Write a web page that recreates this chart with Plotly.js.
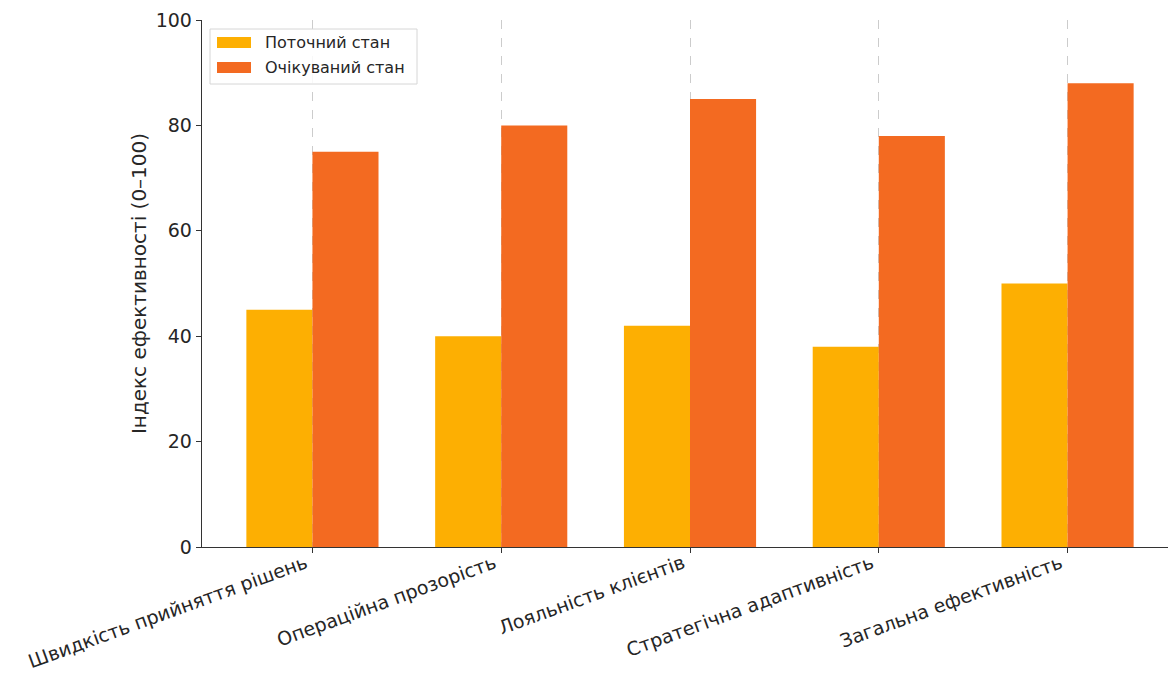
<!DOCTYPE html>
<html>
<head>
<meta charset="utf-8">
<script src="https://cdn.plot.ly/plotly-3.0.1.min.js"></script>
<style>
html,body{margin:0;padding:0;overflow:hidden;background:#fff;}
#chart{width:1168px;height:674px;}
</style>
</head>
<body>
<div id="chart"></div>
<script>
const categories = [
  "Швидкість прийняття рішень",
  "Операційна прозорість",
  "Лояльність клієнтів",
  "Стратегічна адаптивність",
  "Загальна ефективність"
];
const currentValues = [45, 40, 42, 38, 50];
const expectedValues = [75, 80, 85, 78, 88];
const seriesNames = ["Поточний стан", "Очікуваний стан"];
const seriesColors = ["#FDAF02", "#F36A21"];
const yTicks = [0, 20, 40, 60, 80, 100];

const font = "DejaVu Sans, sans-serif";
const W = 1168, H = 674, ML = 202, MT = 20, MB = 127, MR = 0;
const PW = W - ML - MR, PH = H - MT - MB;
const px = v => (v - ML) / PW;
const py = v => (H - MB - v) / PH;

const traces = [
  {type: "bar", x: categories, y: currentValues, name: seriesNames[0],
   marker: {color: seriesColors[0]}},
  {type: "bar", x: categories, y: expectedValues, name: seriesNames[1],
   marker: {color: seriesColors[1]}}
];

// custom legend (box, swatches, labels)
const shapes = [
  {type: "rect", xref: "paper", yref: "paper", x0: px(210), x1: px(417), y0: py(29), y1: py(84),
   line: {color: "#d6d6d6", width: 1}, fillcolor: "rgba(255,255,255,0.85)", layer: "above"}
];
const annotations = [];
const rowY = [42.5, 67.5];
seriesNames.forEach((n, i) => {
  shapes.push({type: "rect", xref: "paper", yref: "paper",
    x0: px(217), x1: px(251), y0: py(rowY[i] - 5.5), y1: py(rowY[i] + 5.5),
    line: {width: 0}, fillcolor: seriesColors[i], layer: "above"});
  annotations.push({xref: "paper", yref: "paper", x: px(263), y: py(rowY[i]),
    xanchor: "left", yanchor: "middle", showarrow: false, text: n,
    font: {family: font, size: 16, color: "#262626"}});
});

const layout = {
  width: W, height: H,
  margin: {l: ML, r: MR, t: MT, b: MB},
  paper_bgcolor: "#fff", plot_bgcolor: "#fff",
  font: {family: font, color: "#262626", size: 19},
  barmode: "group", bargap: 0.3, bargroupgap: 0,
  showlegend: false,
  shapes: shapes,
  annotations: annotations,
  xaxis: {
    type: "category", range: [-0.585, 4.532],
    tickangle: -20, tickfont: {family: font, size: 19, color: "#262626"},
    ticklabelshift: -7, ticklabelstandoff: -8,
    showgrid: true, gridcolor: "#cccccc", griddash: "dash", gridwidth: 1,
    showline: true, linecolor: "#333", linewidth: 1.3,
    ticks: "outside", ticklen: 5, tickcolor: "#333",
    zeroline: false, automargin: false
  },
  yaxis: {
    range: [0, 100], tickvals: yTicks, ticktext: yTicks.map(String),
    tickfont: {family: font, size: 19, color: "#262626"},
    showgrid: false, zeroline: false,
    showline: true, linecolor: "#333", linewidth: 1.3,
    ticks: "outside", ticklen: 5, tickcolor: "#333",
    title: {text: "Індекс ефективності (0–100)", font: {family: font, size: 20, color: "#262626"}, standoff: 3},
    automargin: false
  }
};

Plotly.newPlot("chart", traces, layout, {displayModeBar: false, staticPlot: true});
</script>
</body>
</html>
